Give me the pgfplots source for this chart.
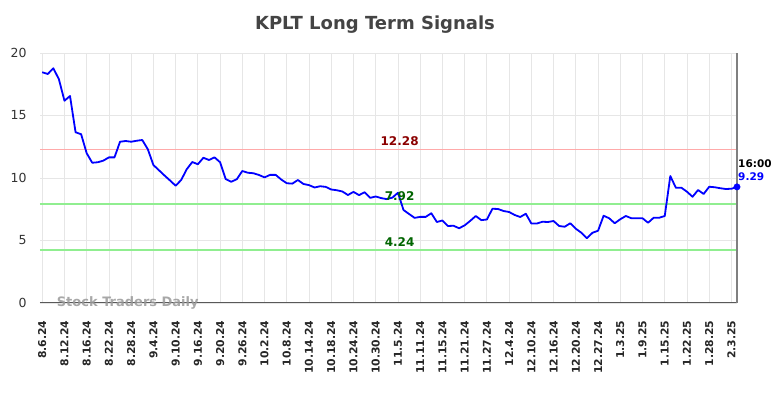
\documentclass[border=0pt]{standalone}
\usepackage{fontspec}
\setmainfont{DejaVu Sans}
\usepackage{pgfplots}
\pgfplotsset{compat=1.18}
\definecolor{hlgreen}{RGB}{144,238,144}
\definecolor{hlred}{RGB}{255,170,170}
\definecolor{lblred}{RGB}{139,0,0}
\definecolor{lblgreen}{RGB}{0,100,0}
\definecolor{gridc}{RGB}{230,230,230}
\definecolor{titlec}{RGB}{68,68,68}
\begin{document}
\begin{tikzpicture}[x=1pt,y=1pt]
\useasboundingbox (-40,-95) rectangle (744,303);
\begin{axis}[
  at={(0,0)}, anchor=south west,
  scale only axis, width=697pt, height=250pt,
  xmin=-0.4, xmax=125, ymin=0, ymax=20,
  axis line style={draw=none},
  clip=false,
  major tick length=0pt,
  xtick={0,4,...,124},
  xticklabels={8.6.24,8.12.24,8.16.24,8.22.24,8.28.24,9.4.24,9.10.24,9.16.24,9.20.24,9.26.24,10.2.24,10.8.24,10.14.24,10.18.24,10.24.24,10.30.24,11.5.24,11.11.24,11.15.24,11.21.24,11.27.24,12.4.24,12.10.24,12.16.24,12.20.24,12.27.24,1.3.25,1.9.25,1.15.25,1.22.25,1.28.25,2.3.25},
  ytick={0,5,10,15,20},
  /pgf/number format/assume math mode=true,
  xticklabel style={rotate=90, anchor=east, font=\fontsize{10.8}{12}\selectfont\bfseries, text=black!85, xshift=-14pt},
  yticklabel style={font=\fontsize{12.5}{14}\selectfont, text=black!80, xshift=-10pt},
  xmajorgrids, ymajorgrids,
  grid style={color=gridc, line width=0.8pt},
]
\addplot[draw=hlgreen, line width=1.6pt, forget plot] coordinates {(-0.4,7.92) (125,7.92)};
\addplot[draw=hlgreen, line width=1.6pt, forget plot] coordinates {(-0.4,4.24) (125,4.24)};
\addplot[draw=hlred, line width=1.6pt, forget plot] coordinates {(-0.4,12.28) (125,12.28)};
\draw[black!65, line width=1pt] (axis cs:-0.4,0) -- (axis cs:125,0);
\draw[black!50, line width=1.8pt] (axis cs:125,0) -- (axis cs:125,20);
\node[text=gray!80, font=\fontsize{13}{14}\selectfont\bfseries, anchor=west, opacity=0.85] at (axis cs:2.0,0) {Stock Traders Daily};
\addplot[blue, line width=1.8pt, line join=round] coordinates {
(0,18.46) (1,18.32) (2,18.78) (3,17.90) (4,16.18) (5,16.56) (6,13.66) (7,13.50) (8,11.98) (9,11.22)
(10,11.26) (11,11.39) (12,11.65) (13,11.65) (14,12.90) (15,12.96) (16,12.90) (17,12.98) (18,13.04) (19,12.30)
(20,11.04) (21,10.62) (22,10.20) (23,9.80) (24,9.38) (25,9.84) (26,10.70) (27,11.28) (28,11.10) (29,11.62)
(30,11.44) (31,11.65) (32,11.26) (33,9.92) (34,9.70) (35,9.90) (36,10.56) (37,10.42) (38,10.38) (39,10.24)
(40,10.05) (41,10.25) (42,10.25) (43,9.88) (44,9.58) (45,9.55) (46,9.84) (47,9.52) (48,9.43) (49,9.24)
(50,9.34) (51,9.29) (52,9.08) (53,9.02) (54,8.92) (55,8.64) (56,8.89) (57,8.63) (58,8.86) (59,8.41)
(60,8.52) (61,8.39) (62,8.31) (63,8.43) (64,8.82) (65,7.44) (66,7.12) (67,6.81) (68,6.89) (69,6.89)
(70,7.18) (71,6.48) (72,6.60) (73,6.16) (74,6.18) (75,5.98) (76,6.21) (77,6.57) (78,6.96) (79,6.63)
(80,6.68) (81,7.54) (82,7.52) (83,7.36) (84,7.28) (85,7.04) (86,6.88) (87,7.14) (88,6.36) (89,6.36)
(90,6.50) (91,6.48) (92,6.56) (93,6.16) (94,6.10) (95,6.38) (96,5.94) (97,5.62) (98,5.18) (99,5.62)
(100,5.78) (101,6.98) (102,6.78) (103,6.38) (104,6.70) (105,6.96) (106,6.78) (107,6.78) (108,6.78) (109,6.42)
(110,6.82) (111,6.82) (112,6.96) (113,10.16) (114,9.22) (115,9.22) (116,8.90) (117,8.50) (118,9.04) (119,8.72)
(120,9.30) (121,9.26) (122,9.18) (123,9.12) (124,9.14) (125,9.29)
};
\addplot[blue, only marks, mark=*, mark size=3.2pt] coordinates {(125,9.29)};
\node[text=lblred, font=\fontsize{12}{13}\selectfont\bfseries, anchor=south] at (axis cs:64.3,12.28) {12.28};
\node[text=lblgreen, font=\fontsize{12}{13}\selectfont\bfseries, anchor=south] at (axis cs:64.3,7.92) {7.92};
\node[text=lblgreen, font=\fontsize{12}{13}\selectfont\bfseries, anchor=south] at (axis cs:64.3,4.24) {4.24};
\node[text=black, font=\fontsize{10.5}{12}\selectfont\bfseries, anchor=south west, inner sep=1pt] at ([yshift=18pt]axis cs:125,9.29) {16:00};
\node[text=blue, font=\fontsize{10.5}{12}\selectfont\bfseries, anchor=south west, inner sep=1pt] at ([yshift=5pt]axis cs:125,9.29) {9.29};
\end{axis}
\node[text=titlec, font=\fontsize{18}{20}\selectfont\bfseries] at (335,278) {KPLT Long Term Signals};
\end{tikzpicture}
\end{document}
